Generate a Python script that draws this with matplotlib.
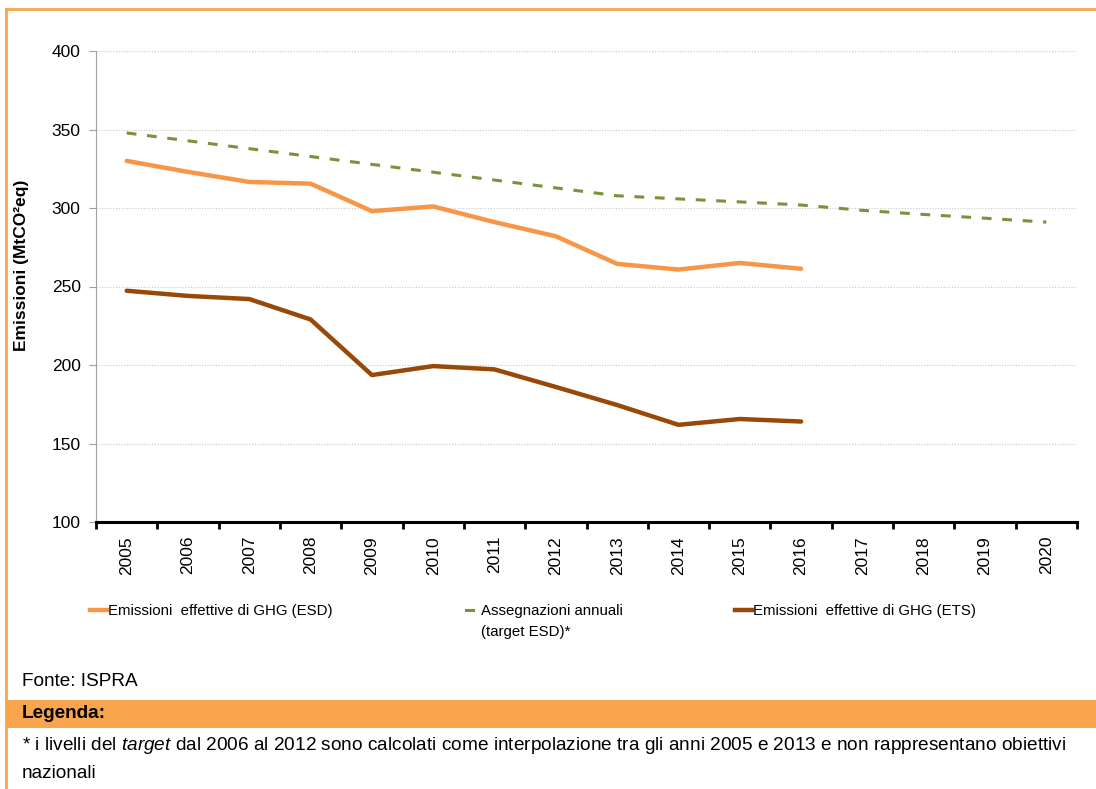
import matplotlib
matplotlib.use('Agg')
import matplotlib.pyplot as plt
from matplotlib.lines import Line2D
from matplotlib.patches import Rectangle

# data
anni = ['2005', '2006', '2007', '2008', '2009', '2010', '2011', '2012',
        '2013', '2014', '2015', '2016', '2017', '2018', '2019', '2020']
esd = [330, 323, 316.6, 315.5, 298, 301, 291, 282, 264.4, 260.8, 265, 261.3]
target = [347.8, 342.8, 337.8, 332.8, 327.8, 322.8, 317.8, 312.8, 307.8,
          305.8, 303.9, 301.9, 298.5, 295.9, 293.5, 291]
ets = [247.3, 244, 242, 229, 193.6, 199.3, 197.2, 186, 174.5, 161.9, 165.6, 164]

c_esd = '#F79646'
c_target = '#77933C'
c_ets = '#984807'
c_band = '#F9A54E'

plt.rcParams['font.family'] = ['Liberation Sans', 'DejaVu Sans']
plt.rcParams['mathtext.fontset'] = 'custom'
plt.rcParams['mathtext.rm'] = 'Liberation Sans'
plt.rcParams['mathtext.it'] = 'Liberation Sans:italic'

fig = plt.figure(figsize=(10.96, 7.89), dpi=100)
ax = fig.add_axes([96/1096, 1-522/789, 981/1096, 471/789])

x = list(range(len(anni)))
ax.plot(x[:len(esd)], esd, color=c_esd, lw=3.2, solid_capstyle='round')
ax.plot(x, target, color=c_target, lw=2.2, dashes=(3.2, 3.5))
ax.plot(x[:len(ets)], ets, color=c_ets, lw=3.2, solid_capstyle='round')

ax.set_xlim(-0.5, len(anni) - 0.5)
ax.set_ylim(100, 400)
ax.set_yticks([100, 150, 200, 250, 300, 350, 400])
ax.tick_params(axis='y', labelsize=12.5, length=5, color='#A0A0A0', pad=6)
ax.set_xticks(x)
ax.set_xticklabels(anni, rotation=90, fontsize=12.5)
ax.tick_params(axis='x', length=0, pad=10)
ax.set_xticks([i - 0.5 for i in range(len(anni) + 1)], minor=True)
ax.tick_params(axis='x', which='minor', length=5, width=2, color='black')
ax.grid(axis='y', color='#C8C8C8', linestyle=(0, (1, 1.5)), lw=0.8)
ax.set_axisbelow(True)
for s in ['top', 'right']:
    ax.spines[s].set_visible(False)
ax.spines['left'].set_color('#A0A0A0')
ax.spines['bottom'].set_linewidth(2.2)
ax.set_ylabel('Emissioni (MtCO²eq)', fontsize=12.5, fontweight='bold')
ax.yaxis.set_label_coords(-0.068, 0.544)

# legend entries placed one by one, like the original
leg_y = 1 - 604/789
fs_leg = 10.8
leg1 = fig.legend([Line2D([], [], color=c_esd, lw=3.2)], ['Emissioni  effettive di GHG (ESD)'],
                  loc='upper left', bbox_to_anchor=(90/1096, leg_y), frameon=False,
                  handlelength=1.15, handletextpad=0.05, fontsize=fs_leg,
                  borderpad=0, borderaxespad=0)
leg2 = fig.legend([Line2D([], [], color=c_target, lw=2.2)], ['Assegnazioni annuali'],
                  loc='upper left', bbox_to_anchor=(463/1096, leg_y), frameon=False,
                  handlelength=1.0, handletextpad=0.2, fontsize=fs_leg,
                  borderpad=0, borderaxespad=0)
leg2.legend_handles[0].set_data([0.13 * 15, 0.47 * 15], [3.5, 3.5])
leg3 = fig.legend([Line2D([], [], color=c_ets, lw=3.2)], ['Emissioni  effettive di GHG (ETS)'],
                  loc='upper left', bbox_to_anchor=(735/1096, leg_y), frameon=False,
                  handlelength=1.15, handletextpad=0.05, fontsize=fs_leg,
                  borderpad=0, borderaxespad=0)
fig.text(481/1096, 1-632/789, '(target ESD)*', fontsize=fs_leg, va='center')

fs_note = 13.7
fig.text(22/1096, 1-682/789, 'Fonte: ISPRA', fontsize=fs_note, va='center')
fig.add_artist(Rectangle((6/1096, 1-728/789), 1, 28/789, transform=fig.transFigure,
                         color=c_band, lw=0))
fig.text(22/1096, 1-713/789, 'Legenda:', fontsize=fs_note, fontweight='bold', va='center')
fig.text(22/1096, 1-745/789,
         r'* i livelli del $\it{target}$ dal 2006 al 2012 sono calcolati come interpolazione tra gli anni 2005 e 2013 e non rappresentano obiettivi',
         fontsize=fs_note, va='center')
fig.text(22/1096, 1-773/789, 'nazionali', fontsize=fs_note, va='center')

# orange frame
fig.add_artist(Line2D([6/1096, 6/1096], [0, 1-9/789], transform=fig.transFigure,
                      color=c_band, lw=2))
fig.add_artist(Line2D([6/1096, 1], [1-9/789, 1-9/789], transform=fig.transFigure,
                      color=c_band, lw=2))

fig.savefig('out.png', dpi=100)
